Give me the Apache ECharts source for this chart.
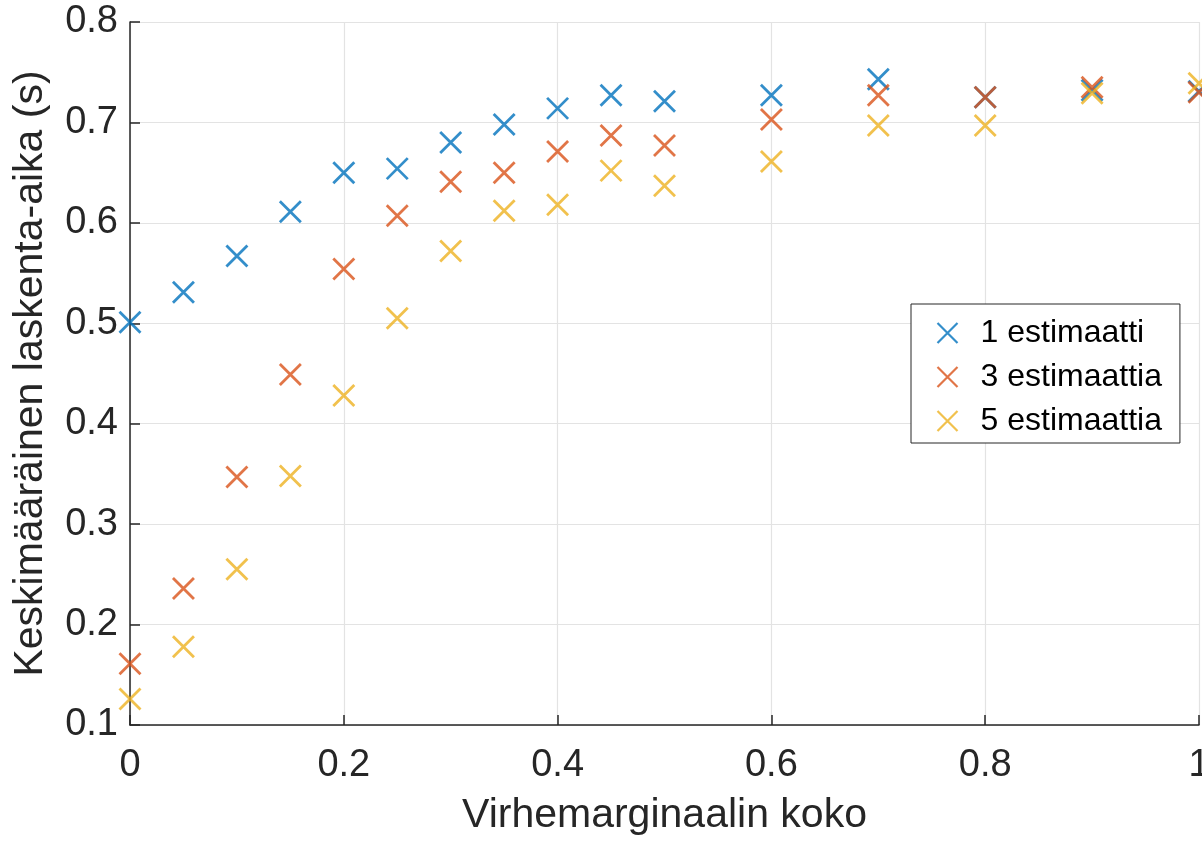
<!DOCTYPE html>
<html>
<head>
<meta charset="utf-8">
<script src="https://cdn.jsdelivr.net/npm/echarts@6/dist/echarts.min.js"></script>
<style>
html,body{margin:0;padding:0;background:#fff;}
#scatter{width:1202px;height:841px;}
</style>
</head>
<body>
<div id="scatter"></div>
<script>
// virhemarginaali (x) ja keskimääräinen laskenta-aika (y)
var xVals = [0, 0.05, 0.1, 0.15, 0.2, 0.25, 0.3, 0.35, 0.4, 0.45, 0.5, 0.6, 0.7, 0.8, 0.9, 1.0];
var est1 = [0.501, 0.531, 0.567, 0.611, 0.650, 0.654, 0.680, 0.698, 0.714, 0.727, 0.721, 0.727, 0.743, 0.725, 0.732, 0.731];
var est3 = [0.161, 0.236, 0.347, 0.449, 0.554, 0.607, 0.641, 0.650, 0.671, 0.687, 0.677, 0.703, 0.727, 0.725, 0.735, 0.730];
var est5 = [0.126, 0.178, 0.255, 0.348, 0.428, 0.505, 0.572, 0.612, 0.618, 0.652, 0.637, 0.661, 0.697, 0.697, 0.729, 0.739];
var seriesNames = ['1 estimaatti', '3 estimaattia', '5 estimaattia'];
var colors = ['#0072BD', '#D95319', '#EDB120'];

var cross = 'path://M0,0L20,20M20,0L0,20';
var font = 'Liberation Sans';

function pairs(ys){
	return xVals.map(function(x, i){ return [x, ys[i]]; });
}

function makeSeries(name, ys, color){
	return {
		name: name,
		type: 'scatter',
		data: pairs(ys),
		symbol: cross,
		symbolSize: 21,
		symbolKeepAspect: true,
		itemStyle: {color: 'none', borderColor: color, borderWidth: 2.8},
		emphasis: {disabled: true}
	};
}

var myChart = echarts.init(document.getElementById('scatter'));

myChart.setOption({
	animation: false,
	backgroundColor: '#fff',
	grid: {left: 130, right: 3, top: 22, bottom: 116, outerBoundsMode: 'none'},
	legend: {
		orient: 'vertical',
		left: 911, top: 304,
		padding: [13, 18, 6, 24],
		itemWidth: 20, itemHeight: 20, itemGap: 12,
		borderColor: '#262626', borderWidth: 1,
		backgroundColor: '#fff',
		textStyle: {fontFamily: font, fontSize: 32, lineHeight: 32, color: '#000', padding: [0, 0, 0, 18]},
		data: seriesNames.map(function(n, i){
			return {name: n, icon: cross,
				itemStyle: {color: 'none', borderColor: colors[i], borderWidth: 2.2}};
		})
	},
	xAxis: {
		type: 'value', min: 0, max: 1, interval: 0.2,
		name: 'Virhemarginaalin koko',
		nameLocation: 'middle', nameGap: 70,
		nameTextStyle: {fontFamily: font, fontSize: 41, color: '#262626'},
		axisLine: {onZero: false, lineStyle: {color: '#262626', width: 1.5}},
		axisTick: {inside: true, length: 10, lineStyle: {color: '#262626', width: 1.5}},
		axisLabel: {fontFamily: font, fontSize: 38, color: '#262626', margin: 22},
		splitLine: {show: true, lineStyle: {color: '#e3e3e3', width: 1.2}}
	},
	yAxis: {
		type: 'value', min: 0.1, max: 0.8, interval: 0.1,
		name: 'Keskimääräinen laskenta-aika (s)',
		nameLocation: 'middle', nameGap: 79,
		nameTextStyle: {fontFamily: font, fontSize: 41, color: '#262626'},
		axisLine: {show: true, lineStyle: {color: '#262626', width: 1.5}},
		axisTick: {show: true, inside: true, length: 10, lineStyle: {color: '#262626', width: 1.5}},
		axisLabel: {fontFamily: font, fontSize: 38, color: '#262626', margin: 12,
			formatter: function(v){ return v.toFixed(1); }},
		splitLine: {show: true, lineStyle: {color: '#e3e3e3', width: 1.2}}
	},
	series: [
		makeSeries(seriesNames[0], est1, colors[0]),
		makeSeries(seriesNames[1], est3, colors[1]),
		makeSeries(seriesNames[2], est5, colors[2])
	]
});
</script>
</body>
</html>
